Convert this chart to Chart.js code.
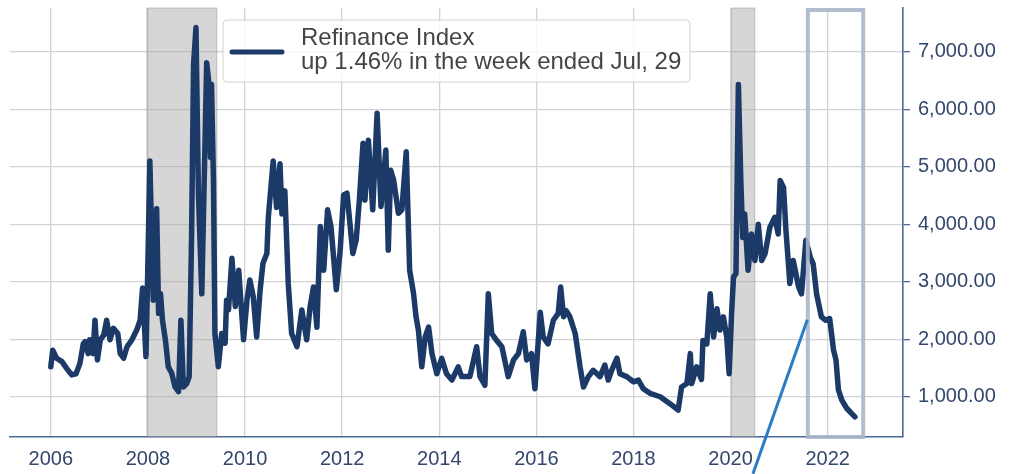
<!DOCTYPE html>
<html>
<head>
<meta charset="utf-8">
<script src="https://cdn.jsdelivr.net/npm/chart.js@4.4.0/dist/chart.umd.min.js"></script>
<style>
  html, body { margin: 0; padding: 0; background: #fff; }
</style>
</head>
<body>
<canvas id="refiChart" width="1010" height="474"></canvas>
<script>
// week (decimal year) and MBA refinance index
const weekYears = [
  2006.00, 2006.04, 2006.12, 2006.23, 2006.33, 2006.43, 2006.52, 2006.60, 2006.67, 2006.71,
  2006.77, 2006.80, 2006.87, 2006.91, 2006.96, 2007.02, 2007.09, 2007.15, 2007.22, 2007.29,
  2007.38, 2007.43, 2007.50, 2007.57, 2007.67, 2007.77, 2007.84, 2007.89, 2007.96, 2007.99,
  2008.04, 2008.11, 2008.18, 2008.22, 2008.26, 2008.30, 2008.36, 2008.42, 2008.49, 2008.56,
  2008.63, 2008.68, 2008.73, 2008.80, 2008.85, 2008.90, 2008.94, 2008.99, 2009.04, 2009.11,
  2009.18, 2009.21, 2009.25, 2009.29, 2009.31, 2009.35, 2009.38, 2009.45, 2009.52, 2009.59,
  2009.62, 2009.66, 2009.73, 2009.80, 2009.87, 2009.97, 2010.04, 2010.10, 2010.17, 2010.24,
  2010.31, 2010.37, 2010.45, 2010.48, 2010.58, 2010.65, 2010.72, 2010.76, 2010.82, 2010.89,
  2010.96, 2011.07, 2011.17, 2011.27, 2011.34, 2011.41, 2011.48, 2011.55, 2011.62, 2011.70,
  2011.77, 2011.88, 2011.96, 2012.03, 2012.10, 2012.22, 2012.29, 2012.36, 2012.43, 2012.47,
  2012.54, 2012.63, 2012.72, 2012.80, 2012.90, 2012.95, 2013.00, 2013.06, 2013.16, 2013.23,
  2013.32, 2013.39, 2013.47, 2013.52, 2013.57, 2013.64, 2013.71, 2013.78, 2013.85, 2013.95,
  2014.05, 2014.15, 2014.26, 2014.39, 2014.46, 2014.63, 2014.77, 2014.84, 2014.94, 2015.01,
  2015.08, 2015.18, 2015.29, 2015.42, 2015.53, 2015.63, 2015.73, 2015.80, 2015.90, 2015.97,
  2016.08, 2016.14, 2016.24, 2016.35, 2016.45, 2016.50, 2016.56, 2016.61, 2016.69, 2016.80,
  2016.90, 2016.97, 2017.07, 2017.17, 2017.31, 2017.41, 2017.48, 2017.55, 2017.66, 2017.72,
  2017.86, 2018.00, 2018.10, 2018.20, 2018.34, 2018.55, 2018.75, 2018.92, 2018.99, 2019.10,
  2019.17, 2019.20, 2019.30, 2019.40, 2019.43, 2019.51, 2019.58, 2019.65, 2019.72, 2019.78,
  2019.85, 2019.92, 2019.97, 2020.02, 2020.06, 2020.11, 2020.16, 2020.21, 2020.25, 2020.29,
  2020.36, 2020.43, 2020.50, 2020.57, 2020.64, 2020.71, 2020.81, 2020.91, 2020.98, 2021.02,
  2021.09, 2021.14, 2021.22, 2021.29, 2021.40, 2021.46, 2021.55, 2021.64, 2021.70, 2021.77,
  2021.87, 2021.96, 2022.04, 2022.12, 2022.17, 2022.22, 2022.29, 2022.39, 2022.49, 2022.56
]
const refiValues = [
  1520, 1810, 1670, 1610, 1490, 1380, 1400, 1580, 1920, 1960,
  1750, 1990, 1750, 2330, 1640, 1990, 2070, 2330, 1990, 2190,
  2100, 1750, 1670, 1870, 1990, 2160, 2330, 2890, 1700, 2900,
  5100, 2680, 4270, 2450, 2790, 2330, 1990, 1520, 1410, 1170,
  1090, 2330, 1170, 1230, 1350, 3830, 6780, 7420, 4540, 2790,
  5570, 6810, 6500, 5160, 6430, 4760, 2100, 1520, 2100, 1930,
  2680, 2510, 3410, 2570, 3200, 1990, 2680, 3030, 2740, 2040,
  2850, 3320, 3490, 4120, 5100, 4290, 5050, 4180, 4580, 2970,
  2100, 1870, 2510, 1990, 2560, 2910, 2210, 3960, 3200, 4250,
  3960, 2860, 3550, 4510, 4540, 3490, 3730, 4480, 5410, 4420,
  5460, 4250, 5930, 4310, 5290, 3550, 4940, 4770, 4190, 4250,
  5260, 3200, 2800, 2400, 2160, 1520, 2040, 2210, 1750, 1400,
  1670, 1400, 1290, 1520, 1350, 1350, 1870, 1350, 1200, 2790,
  2100, 1980, 1870, 1350, 1640, 1750, 2130, 1640, 1750, 1140,
  2470, 2040, 1920, 2330, 2450, 2910, 2390, 2500, 2390, 2100,
  1520, 1170, 1350, 1460, 1350, 1550, 1290, 1460, 1670, 1400,
  1350, 1260, 1290, 1140, 1060, 1000, 880, 770, 1170, 1230,
  1750, 1230, 1520, 1300, 1980, 1920, 2790, 2040, 2530, 2160,
  2390, 2040, 1400, 2450, 3080, 3140, 6430, 4760, 3770, 4180,
  3200, 3830, 3370, 4000, 3370, 3490, 3950, 4120, 3830, 4760,
  4640, 3890, 2970, 3370, 2910, 2790, 3720, 3430, 3310, 2790,
  2390, 2330, 2360, 1810, 1640, 1120, 940, 800, 710, 650
]
const yearTicks = [2006, 2008, 2010, 2012, 2014, 2016, 2018, 2020, 2022]
const valueTicks = [1000, 2000, 3000, 4000, 5000, 6000, 7000]
const recessions = [[2007.98, 2009.42], [2020.02, 2020.50]]
const highlightSpan = [2021.59, 2022.73]
const pointerFrom = [2021.58, 2340]
const pointerTo = [2020.46, -340]
const legendLines = ['Refinance Index', 'up 1.46% in the week ended Jul, 29']

const navy = '#1c3a68'
const axisBlue = '#4a6898'
const tickText = '#34466c'
const fontFamily = '"Liberation Sans", Arial, sans-serif'

const overlays = {
  id: 'overlays',
  beforeDatasetsDraw(chart) {
    const { ctx, chartArea: a, scales: { x } } = chart
    ctx.save()
    recessions.forEach(([from, to]) => {
      const x0 = x.getPixelForValue(from)
      const x1 = x.getPixelForValue(to)
      ctx.fillStyle = 'rgba(165,165,165,0.45)'
      ctx.fillRect(x0, a.top, x1 - x0, a.bottom - a.top)
      ctx.strokeStyle = 'rgba(140,140,140,0.45)'
      ctx.lineWidth = 1
      ctx.strokeRect(x0, a.top, x1 - x0, a.bottom - a.top)
    })
    ctx.restore()
  },
  afterDatasetsDraw(chart) {
    const { ctx, chartArea: a, scales: { x, y } } = chart
    ctx.save()
    // highlight frame
    const h0 = x.getPixelForValue(highlightSpan[0])
    const h1 = x.getPixelForValue(highlightSpan[1])
    ctx.strokeStyle = 'rgba(170,182,202,0.9)'
    ctx.lineWidth = 4
    ctx.strokeRect(h0, a.top + 2, h1 - h0, a.bottom - a.top - 2)
    // pointer line
    ctx.strokeStyle = '#2a7cc4'
    ctx.lineWidth = 3
    ctx.beginPath()
    ctx.moveTo(x.getPixelForValue(pointerFrom[0]), y.getPixelForValue(pointerFrom[1]))
    ctx.lineTo(x.getPixelForValue(pointerTo[0]), y.getPixelForValue(pointerTo[1]))
    ctx.stroke()
    // legend
    const lx = a.left + 213, ly = a.top + 12, lw = 467, lh = 62
    ctx.fillStyle = 'rgba(255,255,255,0.82)'
    ctx.strokeStyle = '#d2d2d2'
    ctx.lineWidth = 1
    ctx.beginPath()
    ctx.roundRect(lx, ly, lw, lh, 4)
    ctx.fill()
    ctx.stroke()
    ctx.strokeStyle = navy
    ctx.lineWidth = 5
    ctx.lineCap = 'round'
    ctx.beginPath()
    ctx.moveTo(lx + 9, ly + 32)
    ctx.lineTo(lx + 59, ly + 32)
    ctx.stroke()
    ctx.fillStyle = '#454545'
    ctx.font = '24px ' + fontFamily
    ctx.textBaseline = 'alphabetic'
    ctx.fillText(legendLines[0], lx + 78, ly + 25)
    ctx.fillText(legendLines[1], lx + 78, ly + 49)
    ctx.restore()
  }
}

const ctx = document.getElementById('refiChart').getContext('2d')

new Chart(ctx, {
  type: 'line',
  data: {
    datasets: [{
      label: legendLines[0],
      data: weekYears.map((w, i) => ({ x: w, y: refiValues[i] })),
      borderColor: navy,
      borderWidth: 5.5,
      borderJoinStyle: 'round',
      borderCapStyle: 'round',
      pointRadius: 0,
      tension: 0,
      fill: false
    }]
  },
  options: {
    responsive: false,
    devicePixelRatio: 1,
    animation: false,
    layout: { padding: { left: 10, top: 8, right: 0, bottom: 0 } },
    plugins: { legend: { display: false }, tooltip: { enabled: false } },
    scales: {
      x: {
        type: 'linear',
        min: 2005.16,
        max: 2023.55,
        afterBuildTicks: scale => { scale.ticks = yearTicks.map(v => ({ value: v })) },
        afterFit: scale => { scale.height = 37; scale.paddingLeft = 0; scale.paddingRight = 0 },
        grid: { color: '#d3d3d3', lineWidth: 1.3, drawTicks: false },
        border: { display: true, color: axisBlue, width: 1.6 },
        ticks: {
          padding: 10,
          color: tickText,
          font: { family: fontFamily, size: 20 },
          maxRotation: 0,
          callback: v => String(v)
        }
      },
      y: {
        position: 'right',
        min: 300,
        max: 7760,
        afterBuildTicks: scale => { scale.ticks = valueTicks.map(v => ({ value: v })) },
        afterFit: scale => { scale.width = 107; scale.paddingTop = 0; scale.paddingBottom = 0 },
        grid: { color: '#d3d3d3', lineWidth: 1.3, tickLength: 7, tickColor: axisBlue, tickWidth: 1.3 },
        border: { display: true, color: axisBlue, width: 1.6 },
        ticks: {
          padding: 8,
          color: tickText,
          font: { family: fontFamily, size: 20 },
          callback: v => v.toLocaleString('en-US', { minimumFractionDigits: 2, maximumFractionDigits: 2 })
        }
      }
    }
  },
  plugins: [overlays]
})
</script>
</body>
</html>
